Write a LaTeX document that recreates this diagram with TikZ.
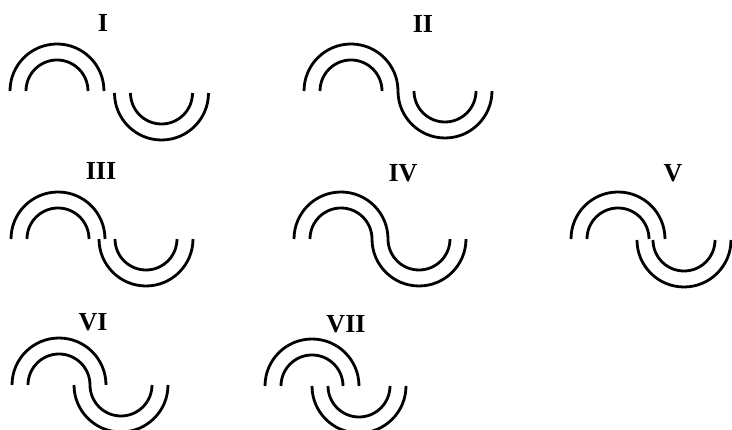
\documentclass[tikz,border=0pt]{standalone}
\usepackage{fontspec}
\setmainfont{Liberation Serif}
\usepackage{tikz}
\tikzset{
  band/.style={draw=black, line width=2.8pt},
  tag/.style={anchor=base, inner sep=0pt,
    font=\fontsize{26}{30}\selectfont\bfseries}
}
% one pair of concentric arcs: centre x, centre y, start angle, end angle
\newcommand{\bowpair}[4]{%
  \draw[band] (#1,#2) ++(#3:47pt) arc[start angle=#3, end angle=#4, radius=47pt];
  \draw[band] (#1,#2) ++(#3:31pt) arc[start angle=#3, end angle=#4, radius=31pt];
}
\newcommand{\hump}[2]{\bowpair{#1}{#2}{0}{180}}
\newcommand{\dip}[2]{\bowpair{#1}{#2}{180}{360}}

\begin{document}
\begin{tikzpicture}[x=1pt, y=1pt]
  \useasboundingbox (0,0) rectangle (732,430);

  %% ── Row 1: I, II ─────────────────────────────────────────
  \node[tag] (lblI)  at (103,398) {I};
  \hump{57}{339}  \dip{161.5}{337}

  \node[tag] (lblII) at (423,397) {II};
  \hump{351}{339} \dip{445}{339}

  %% ── Row 2: III, IV, V ────────────────────────────────────
  \node[tag] (lblIII) at (101,250) {III};
  \hump{58}{191}  \dip{146}{191}

  \node[tag] (lblIV) at (403,248) {IV};
  \hump{341}{191} \dip{419}{191}

  \node[tag] (lblV) at (673,248) {V};
  \hump{618}{191} \dip{684}{190}

  %% ── Row 3: VI, VII ───────────────────────────────────────
  \node[tag] (lblVI) at (93,99) {VI};
  \hump{59}{45}   \dip{121}{45}

  \node[tag] (lblVII) at (346,97) {VII};
  \hump{312}{44}  \dip{359}{44}
\end{tikzpicture}
\end{document}
